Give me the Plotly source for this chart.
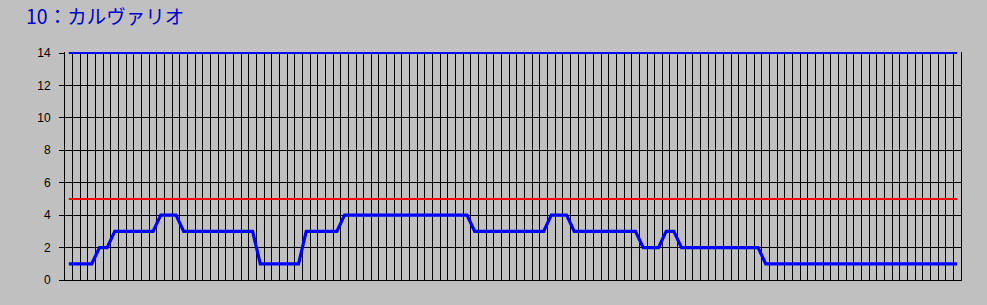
import plotly.graph_objects as go

# Data: runs of (value, count)
runs = [(1, 4), (2, 2), (3, 6), (4, 3), (3, 10), (1, 6), (3, 5), (4, 17),
        (3, 10), (4, 3), (3, 9), (2, 3), (3, 2), (2, 11), (1, 26)]
values = []
for v, n in runs:
    values.extend([v] * n)
categories = list(range(len(values)))
upper_values = [14] * len(values)
limit_values = [5] * len(values)
y_ticks = [0, 2, 4, 6, 8, 10, 12, 14]
title_text = "10：カルヴァリオ"

W, H = 987, 305
left, right, top, bottom = 65, 961, 52, 280
ymax = 14 * (bottom - top) / (bottom - top - 1)

fig = go.Figure()
fig.add_trace(go.Scatter(x=categories, y=upper_values, mode="lines",
                         line=dict(color="#0000FF", width=2), hoverinfo="skip"))
fig.add_trace(go.Scatter(x=categories, y=limit_values, mode="lines",
                         line=dict(color="#FF0000", width=2), hoverinfo="skip"))
fig.add_trace(go.Scatter(x=categories, y=values, mode="lines",
                         line=dict(color="#0000FF", width=3.2), hoverinfo="skip"))

fig.update_layout(
    width=W, height=H,
    margin=dict(l=left, r=W - right, t=top, b=H - bottom, pad=0),
    paper_bgcolor="#C0C0C0", plot_bgcolor="#C0C0C0",
    showlegend=False,
    font=dict(family="Liberation Sans, Arial, sans-serif", size=12, color="#000000"),
    xaxis=dict(range=[-0.5, len(values) - 0.5], tick0=-0.5, dtick=1,
               showgrid=True, gridcolor="#000000", gridwidth=1,
               showticklabels=False, ticks="", zeroline=False,
               showline=True, linecolor="#000000", linewidth=1, mirror=False,
               fixedrange=True),
    yaxis=dict(range=[0, ymax], tickvals=y_ticks, ticktext=[str(t) for t in y_ticks],
               showgrid=True, gridcolor="#000000", gridwidth=1,
               ticks="outside", ticklen=5, tickcolor="#000000", tickwidth=1,
               ticklabelstandoff=6, zeroline=False,
               showline=True, linecolor="#000000", linewidth=1, mirror=True,
               tickfont=dict(size=12, color="#000000"), fixedrange=True),
    annotations=[dict(text=title_text, xref="paper", yref="paper",
                      x=-(left - 24) / (right - left), y=1 + (top + 1) / (bottom - top),
                      xanchor="left", yanchor="top", showarrow=False,
                      font=dict(family="Noto Sans CJK JP", size=19.5, color="#0000CC"))],
)

fig.write_html("out.html")
